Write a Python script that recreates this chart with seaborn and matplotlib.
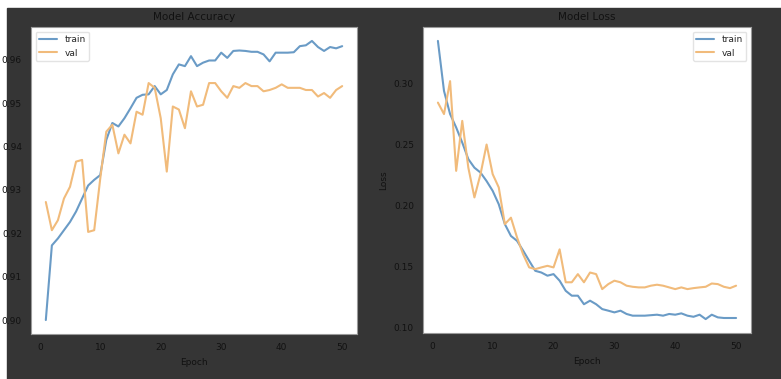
"""Training curves: model accuracy and loss per epoch for train / val splits."""

import matplotlib

matplotlib.use("Agg")
import matplotlib.pyplot as plt
import numpy as np
import pandas as pd
import seaborn as sns
from matplotlib.patches import Rectangle

EPOCHS = list(range(1, 51))

TRAIN_ACC = [
    0.900, 0.9172, 0.9188, 0.9207, 0.9226, 0.925, 0.928, 0.931, 0.9323, 0.9334,
    0.9415, 0.9454, 0.9446, 0.9465, 0.9488, 0.9512, 0.9519, 0.952, 0.9539, 0.952,
    0.953, 0.9566, 0.9589, 0.9585, 0.9608, 0.9585, 0.9593, 0.9598, 0.9598, 0.9616,
    0.9604, 0.962, 0.9621, 0.962, 0.9618, 0.9618, 0.9612, 0.9596, 0.9616, 0.9616,
    0.9616, 0.9617, 0.9631, 0.9633, 0.9643, 0.9629, 0.962, 0.9629, 0.9626, 0.9631,
]
VAL_ACC = [
    0.9272, 0.9207, 0.923, 0.928, 0.9307, 0.9365, 0.9369, 0.9203, 0.9207, 0.9326,
    0.9434, 0.945, 0.9384, 0.9427, 0.9407, 0.948, 0.9473, 0.9546, 0.9535, 0.9465,
    0.9342, 0.9492, 0.9485, 0.9442, 0.9527, 0.9492, 0.9496, 0.9546, 0.9546, 0.9527,
    0.9512, 0.9539, 0.9535, 0.9546, 0.9539, 0.9539, 0.9527, 0.953, 0.9535, 0.9543,
    0.9535, 0.9535, 0.9535, 0.953, 0.953, 0.9515, 0.9523, 0.9512, 0.953, 0.9539,
]
TRAIN_LOSS = [
    0.335, 0.294, 0.275, 0.264, 0.2516, 0.238, 0.231, 0.227, 0.220, 0.212,
    0.201, 0.1847, 0.175, 0.171, 0.163, 0.1546, 0.1464, 0.145, 0.1424, 0.1437,
    0.1383, 0.130, 0.126, 0.126, 0.119, 0.1219, 0.119, 0.115, 0.1137, 0.1123,
    0.1137, 0.111, 0.1096, 0.1096, 0.1096, 0.110, 0.1104, 0.1096, 0.111, 0.1104,
    0.1115, 0.1096, 0.1087, 0.1104, 0.1068, 0.1104, 0.1082, 0.1077, 0.1077, 0.1077,
]
VAL_LOSS = [
    0.2844, 0.275, 0.302, 0.2284, 0.2694, 0.231, 0.2066, 0.2257, 0.250, 0.2257,
    0.2148, 0.1847, 0.190, 0.1738, 0.160, 0.1492, 0.1478, 0.1492, 0.1505, 0.1492,
    0.164, 0.137, 0.137, 0.1437, 0.137, 0.145, 0.1437, 0.1314, 0.1355, 0.1383,
    0.137, 0.1342, 0.1333, 0.1328, 0.1328, 0.1342, 0.135, 0.1342, 0.1328, 0.1314,
    0.1328, 0.1314, 0.1322, 0.1328, 0.1333, 0.136, 0.1355, 0.1333, 0.1322, 0.1342,
]

SPLITS = ["train", "val"]
PALETTE = {"train": "#6a9bc6", "val": "#f1bb7b"}
DARK = "#353535"
INK = "#111111"


def history_frame() -> pd.DataFrame:
    """Long-form table with one row per (split, epoch)."""
    n = len(EPOCHS)
    return pd.DataFrame(
        {
            "epoch": EPOCHS * 2,
            "split": ["train"] * n + ["val"] * n,
            "accuracy": TRAIN_ACC + VAL_ACC,
            "loss": TRAIN_LOSS + VAL_LOSS,
        }
    )


def draw_panel(ax, df, metric, title, ylabel, legend_loc):
    sns.lineplot(
        data=df, x="epoch", y=metric, hue="split", hue_order=SPLITS,
        palette=PALETTE, linewidth=1.5, ax=ax,
    )
    ax.set_title(title, fontsize=7.5, color=INK, pad=5)
    ax.set_xlabel("Epoch", fontsize=6.5, color=INK)
    ax.set_ylabel(ylabel, fontsize=6.5, color=INK)
    ax.tick_params(labelsize=6.5, colors=INK, length=3, width=0.6)
    for spine in ax.spines.values():
        spine.set_edgecolor("#9a9a9a")
        spine.set_linewidth(0.8)
    leg = ax.legend(loc=legend_loc, fontsize=6.5, frameon=True)
    leg.get_frame().set_edgecolor("#dddddd")


def main() -> None:
    sns.set_theme(style="white")
    df = history_frame()

    fig = plt.figure(figsize=(7.81, 3.79), dpi=100, facecolor="white")
    # dark notebook background, with the thin white strips at top and left
    fig.patches.append(
        Rectangle((7 / 781, 0), 1 - 7 / 781, 1 - 8 / 379,
                  transform=fig.transFigure, color=DARK, zorder=-10)
    )

    ax_acc = fig.add_axes([31 / 781, 45 / 379, 326 / 781, 307 / 379])
    ax_loss = fig.add_axes([423 / 781, 46 / 379, 328 / 781, 306 / 379])

    draw_panel(ax_acc, df, "accuracy", "Model Accuracy", "", "upper left")
    draw_panel(ax_loss, df, "loss", "Model Loss", "Loss", "upper right")

    fig.savefig("out.png", dpi=100, facecolor=fig.get_facecolor())
    plt.close(fig)


if __name__ == "__main__":
    main()
